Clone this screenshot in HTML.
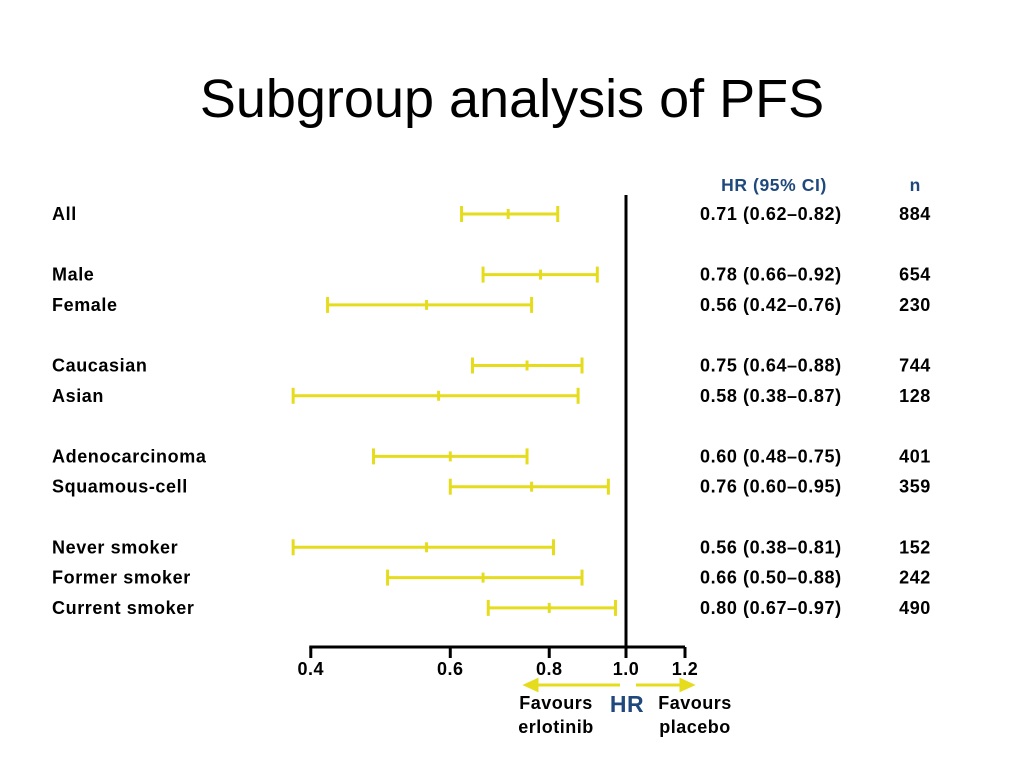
<!DOCTYPE html>
<html><head><meta charset="utf-8"><style>
body{margin:0;background:#fff;width:1024px;height:768px;overflow:hidden}
svg text{font-family:"Liberation Sans",Arial,sans-serif}
</style></head><body>
<svg width="1024" height="768">
<text x="512" y="117" text-anchor="middle" font-size="54" style="font-family:'Liberation Sans',sans-serif">Subgroup analysis of PFS</text>
<text x="774" y="191" text-anchor="middle" font-size="17.5" font-weight="bold" letter-spacing="0.6" fill="#1f497d">HR (95% CI)</text>
<text x="915" y="191" text-anchor="middle" font-size="17.5" font-weight="bold" fill="#1f497d">n</text>
<g id="rows"></g>
<g id="axis"></g>
</svg>
<script>
const labels=["All","Male","Female","Caucasian","Asian","Adenocarcinoma","Squamous-cell","Never smoker","Former smoker","Current smoker"];
const hr=[0.71,0.78,0.56,0.75,0.58,0.60,0.76,0.56,0.66,0.80];
const lo=[0.62,0.66,0.42,0.64,0.38,0.48,0.60,0.38,0.50,0.67];
const hi=[0.82,0.92,0.76,0.88,0.87,0.75,0.95,0.81,0.88,0.97];
const ns=[884,654,230,744,128,401,359,152,242,490];
const ciText=["0.71 (0.62–0.82)","0.78 (0.66–0.92)","0.56 (0.42–0.76)","0.75 (0.64–0.88)","0.58 (0.38–0.87)","0.60 (0.48–0.75)","0.76 (0.60–0.95)","0.56 (0.38–0.81)","0.66 (0.50–0.88)","0.80 (0.67–0.97)"];
const rowSlots=[0,2,3,5,6,8,9,11,12,13];
const ticks=[0.4,0.6,0.8,1.0,1.2];
const tickLabels=["0.4","0.6","0.8","1.0","1.2"];
const NS="http://www.w3.org/2000/svg";
const X=v=>626+Math.log(v)*344;
const Y=s=>214+s*30.3;
const Y_COL="#e6dc1e";
function mk(tag,attrs,parent){const e=document.createElementNS(NS,tag);for(const k in attrs)e.setAttribute(k,attrs[k]);parent.appendChild(e);return e;}
const rows=document.getElementById('rows');
labels.forEach((l,i)=>{
 const y=Y(rowSlots[i]);
 const g=mk('g',{},rows);
 
 
 const t=mk('text',{x:52,y:y+6,'font-size':18,'font-weight':'bold','letter-spacing':0.6},g);t.textContent=l;
 
 
 const c=mk('text',{x:700,y:y+6,'font-size':18,'font-weight':'bold','letter-spacing':0.6},g);c.textContent=ciText[i];
 
 
 const n=mk('text',{x:915,y:y+6,'font-size':18,'font-weight':'bold','text-anchor':'middle','letter-spacing':0.6},g);n.textContent=ns[i];
 
 
 const ln=mk('line',{x1:X(lo[i]),x2:X(hi[i]),y1:y,y2:y,stroke:Y_COL,'stroke-width':3},g);
 
 
 [lo[i],hi[i]].forEach(v=>{const c2=mk('line',{x1:X(v),x2:X(v),y1:y-8,y2:y+8,stroke:Y_COL,'stroke-width':3},g);
  
  });
 const p=mk('line',{x1:X(hr[i]),x2:X(hr[i]),y1:y-5,y2:y+5,stroke:Y_COL,'stroke-width':3},g);
 
 
});
const ax=document.getElementById('axis');
const ref=mk('line',{x1:X(1),x2:X(1),y1:195,y2:647,stroke:'#000','stroke-width':3},ax);


const al=mk('line',{x1:X(0.4)-1.5,x2:685,y1:647,y2:647,stroke:'#000','stroke-width':3},ax);


ticks.forEach((v,i)=>{
 const x=i==4?685:X(v);
 const tk=mk('line',{x1:x,x2:x,y1:647,y2:658,stroke:'#000','stroke-width':3},ax);
 
 
 const tl=mk('text',{x:x,y:675,'font-size':18,'font-weight':'bold','text-anchor':'middle','letter-spacing':0.5},ax);tl.textContent=tickLabels[i];
 
 
});
const a1=mk('path',{d:'M620,685 L534,685 M526,685 L537,680 L537,690 Z',stroke:Y_COL,'stroke-width':3,fill:Y_COL},ax);


const a2=mk('path',{d:'M636,685 L684,685 M692,685 L681,680 L681,690 Z',stroke:Y_COL,'stroke-width':3,fill:Y_COL},ax);


function txt(s,x,y,size,fill,name){const t=mk('text',{x:x,y:y,'font-size':size,'font-weight':'bold','text-anchor':'middle',fill:fill,'letter-spacing':0.5},ax);t.textContent=s;
 
 }
txt('Favours',556,709,18,'#000','favours-erlotinib-label');
txt('erlotinib',556,733,18,'#000','favours-erlotinib-label-2');
txt('Favours',695,709,18,'#000','favours-placebo-label');
txt('placebo',695,733,18,'#000','favours-placebo-label-2');
txt('HR',627,712,23,'#1f497d','hr-axis-title');
</script>
</body></html>
